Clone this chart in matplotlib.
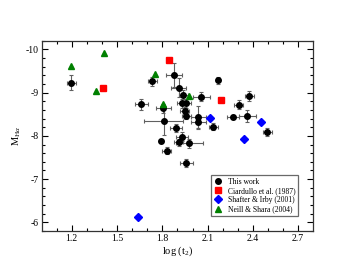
import numpy as np
import matplotlib.pyplot as plt
from matplotlib.lines import Line2D

plt.rcParams['font.family'] = ['Liberation Serif', 'DejaVu Serif']
plt.rcParams['mathtext.fontset'] = 'custom'
plt.rcParams['mathtext.rm'] = 'Liberation Serif'
plt.rcParams['mathtext.it'] = 'Liberation Serif:italic'

# This work
xThis = [1.196, 1.662, 1.732, 1.806, 1.81, 1.789, 1.828, 1.878, 1.909, 1.94,
         1.929, 1.96, 1.948, 1.96, 2.038, 2.038, 2.058, 2.167, 2.137, 1.889,
         1.929, 1.909, 1.98, 1.96, 2.268, 2.305, 2.364, 2.375, 2.495]
yThis = [-9.23, -8.73, -9.26, -8.64, -8.34, -7.88, -7.66, -9.40, -9.11, -8.95,
         -8.75, -8.75, -8.58, -8.46, -8.44, -8.32, -8.91, -9.29, -8.21, -8.18,
         -7.98, -7.85, -7.83, -7.37, -8.43, -8.72, -8.46, -8.92, -8.09]
xerrThis = [0.03, 0.045, 0.03, 0.05, 0.13, 0.0, 0.03, 0.055, 0.05, 0.03,
            0.03, 0.03, 0.03, 0.03, 0.05, 0.05, 0.055, 0.0, 0.03, 0.04,
            0.04, 0.03, 0.09, 0.04, 0.04, 0.03, 0.055, 0.03, 0.03]
yerrThis = [0.18, 0.12, 0.1, 0.1, 0.32, 0.0, 0.08, 0.28, 0.22, 0.1,
            0.1, 0.1, 0.08, 0.08, 0.25, 0.15, 0.1, 0.08, 0.08, 0.1,
            0.1, 0.08, 0.1, 0.1, 0.05, 0.1, 0.15, 0.12, 0.1]

# Ciardullo et al. (1987)
xCia = [1.404, 1.841, 2.187]
yCia = [-9.10, -9.75, -8.83]

# Shafter & Irby (2001)
xSha = [1.638, 2.119, 2.344, 2.455]
ySha = [-6.12, -8.42, -7.92, -8.31]

# Neill & Shara (2004)
xNei = [1.196, 1.414, 1.364, 1.751, 1.806, 1.98]
yNei = [-9.62, -9.92, -9.03, -9.43, -8.74, -8.92]

fig = plt.figure(figsize=(3.52, 2.72), dpi=100)
ax = fig.add_axes([0.118, 0.151, 0.772, 0.699])

ax.errorbar(xThis, yThis, xerr=xerrThis, yerr=yerrThis, fmt='o', color='black',
            ms=4.0, ecolor='#606060', elinewidth=0.8, capsize=1.3, capthick=0.8,
            zorder=3)
hCia, = ax.plot(xCia, yCia, 's', color='#ff0000', ms=4.0, zorder=4)
hSha, = ax.plot(xSha, ySha, 'D', color='#0000ff', ms=3.6, zorder=4)
hNei, = ax.plot(xNei, yNei, '^', color='#008000', ms=4.5, zorder=4)
hThis = Line2D([], [], ls='none', marker='o', color='black', ms=4.0)

ax.set_xlim(1.0, 2.8)
ax.set_ylim(-5.8, -10.2)
ax.set_xticks([1.2, 1.5, 1.8, 2.1, 2.4, 2.7])
ax.set_xticks(np.arange(1.1, 2.8, 0.1), minor=True)
ax.set_yticks([-10, -9, -8, -7, -6])
ax.set_yticklabels(['-10', '-9', '-8', '-7', '-6'])
ax.set_yticks(np.arange(-10.2, -5.79, 0.2), minor=True)
ax.tick_params(which='both', direction='in', top=True, right=True, labelsize=7, pad=2)
ax.tick_params(which='major', length=4, width=0.8)
ax.tick_params(which='minor', length=2, width=0.8)
for s in ax.spines.values():
    s.set_linewidth(0.9)
    s.set_color('#333333')

ax.set_xlabel('log (t$_2$)', fontsize=7.5, labelpad=1)
ax.set_ylabel(r'M$_{\mathrm{H}\alpha}$', fontsize=7.5, labelpad=2)

leg = ax.legend([hThis, hCia, hSha, hNei],
                ['This work', 'Ciardullo et al. (1987)', 'Shafter & Irby (2001)', 'Neill & Shara (2004)'],
                loc='lower right', fontsize=5.5, frameon=True, fancybox=False,
                borderpad=0.35, handletextpad=0.8, labelspacing=0.15,
                handlelength=1.0, borderaxespad=0, bbox_to_anchor=(0.944, 0.079))
leg.get_frame().set_edgecolor('#444444')
leg.get_frame().set_linewidth(0.9)

fig.savefig('out.png', dpi=100)
